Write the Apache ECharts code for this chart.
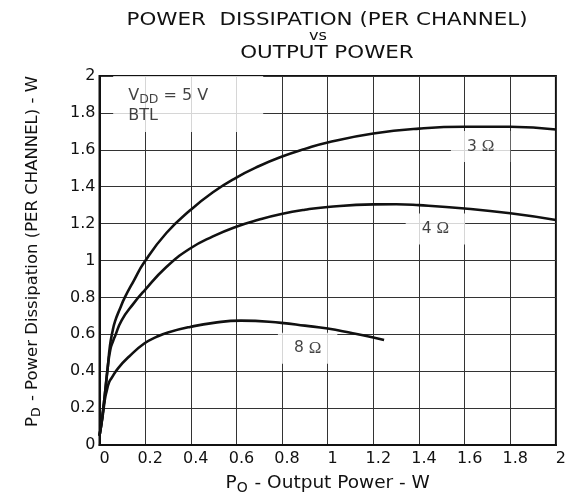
<!DOCTYPE html>
<html>
<head>
<meta charset="utf-8">
<script src="https://cdn.jsdelivr.net/npm/echarts@6/dist/echarts.min.js"></script>
<style>html,body{margin:0;padding:0;background:#fff;}#c{width:569px;height:500px;}</style>
</head>
<body>
<div id="c"></div>
<script>
// Data
const seriesNames = ['3 Ω', '4 Ω', '8 Ω'];
const r3 = [[0,0.05],[0.012,0.15],[0.024,0.28],[0.036,0.42],[0.046,0.54],[0.056,0.61],[0.068,0.67],[0.09,0.74],[0.111,0.80],[0.15,0.89],[0.196,0.99],[0.293,1.149],[0.397,1.272],[0.497,1.370],[0.596,1.447],[0.7,1.512],[0.797,1.562],[0.9,1.605],[1.0,1.64],[1.2,1.688],[1.4,1.715],[1.6,1.725],[1.8,1.725],[2.0,1.71]];
const r4 = [[0,0.05],[0.012,0.15],[0.024,0.28],[0.036,0.42],[0.048,0.52],[0.06,0.565],[0.068,0.59],[0.097,0.676],[0.148,0.765],[0.196,0.836],[0.293,0.965],[0.397,1.065],[0.497,1.131],[0.596,1.182],[0.7,1.222],[0.797,1.252],[0.9,1.275],[1.0,1.29],[1.2,1.304],[1.3,1.305],[1.4,1.30],[1.6,1.282],[1.8,1.256],[2.0,1.22]];
const r8 = [[0,0.05],[0.012,0.14],[0.024,0.25],[0.031,0.29],[0.042,0.34],[0.053,0.363],[0.082,0.417],[0.13,0.48],[0.196,0.55],[0.25,0.586],[0.3,0.61],[0.397,0.64],[0.5,0.662],[0.62,0.674],[0.797,0.662],[0.9,0.647],[1.0,0.631],[1.1,0.608],[1.2,0.583],[1.247,0.569]];
const xTickLabels = ['0','0.2','0.4','0.6','0.8','1','1.2','1.4','1.6','1.8','2'];
const yTickLabels = ['0','0.2','0.4','0.6','0.8','1','1.2','1.4','1.6','1.8','2'];
const curveLabels = [[1.67,1.618,'3'],[1.472,1.171,'4'],[0.912,0.524,'8']];
const noteAnchor = [0.06, 2.0];
const titleLines = ['POWER  DISSIPATION (PER CHANNEL)', 'vs', 'OUTPUT POWER'];

const FONT = 'DejaVu Sans';
const chart = echarts.init(document.getElementById('c'), null, {renderer:'canvas'});
const lineSeries = [r3, r4, r8].map((d, i) => ({
  name: seriesNames[i], type: 'line', data: d, smooth: 0.5, showSymbol: false,
  lineStyle: {color: '#111', width: 2.6}, z: 5, animation: false
}));
function titleText(txt, x, y, size, sx) {
  return {type: 'text', x: x, y: y, scaleX: sx, silent: true,
    style: {text: txt, fontFamily: FONT, fontSize: size, fill: '#111',
      textAlign: 'center', textVerticalAlign: 'middle', align: 'center', verticalAlign: 'middle'}};
}
chart.setOption({
  animation: false,
  backgroundColor: '#fff',
  graphic: [
    titleText(titleLines[0], 327, 20, 18, 1.19),
    titleText(titleLines[1], 318, 36, 14, 1.15),
    titleText(titleLines[2], 327, 53, 18, 1.19)
  ],
  grid: {left: 99.5, right: 11.5, top: 76, bottom: 50.5, show: true, borderColor: '#111', borderWidth: 2, containLabel: false},
  xAxis: {
    type: 'value', min: 0, max: 2, interval: 0.2,
    axisLine: {show: true, lineStyle: {color: '#111', width: 2}},
    axisTick: {show: false},
    splitLine: {show: true, lineStyle: {color: '#333', width: 1}},
    axisLabel: {fontFamily: FONT, fontSize: 16, color: '#111', margin: 6, padding: [0,0,0,10],
      formatter: v => xTickLabels[Math.round(v / 0.2)]},
    name: '{a|P}{s|O}{a| - Output Power - W}', nameLocation: 'middle', nameGap: 26,
    nameTextStyle: {rich: {
      a: {fontFamily: FONT, fontSize: 18.5, color: '#111', lineHeight: 22},
      s: {fontFamily: FONT, fontSize: 14, color: '#111', padding: [10,1,0,0]}
    }}
  },
  yAxis: {
    type: 'value', min: 0, max: 2, interval: 0.2,
    axisLine: {show: true, lineStyle: {color: '#111', width: 2}},
    axisTick: {show: false},
    splitLine: {show: true, lineStyle: {color: '#333', width: 1}},
    axisLabel: {fontFamily: FONT, fontSize: 16, color: '#111', margin: 4,
      formatter: v => yTickLabels[Math.round(v / 0.2)]},
    name: '{a|P}{s|D}{a| - Power Dissipation (PER CHANNEL) - W}', nameLocation: 'middle', nameGap: 56, nameRotate: 90,
    nameTextStyle: {padding: [0,0,0,18], rich: {
      a: {fontFamily: FONT, fontSize: 16.5, color: '#111', lineHeight: 20},
      s: {fontFamily: FONT, fontSize: 12.5, color: '#111', padding: [9,1,0,0]}
    }}
  },
  series: lineSeries.concat([
    {
      type: 'scatter', symbolSize: 0, z: 3, silent: true,
      data: curveLabels.map(c => ({value: [c[0], c[1]], name: c[2]})),
      label: {show: true, position: 'inside',
        formatter: p => '{n|' + p.name + ' }{o|Ω}',
        backgroundColor: '#fff', padding: [7, 16, 7, 16],
        rich: {
          n: {fontFamily: FONT, fontSize: 15.5, color: '#111'},
          o: {fontFamily: 'Liberation Serif', fontSize: 17, color: '#111'}
        }}
    },
    {
      type: 'scatter', symbolSize: 0, z: 3, silent: true,
      data: [{value: noteAnchor}],
      label: {show: true, position: [0, 0], align: 'left', verticalAlign: 'top',
        width: 135, backgroundColor: '#fff', padding: [10, 0, 6, 15],
        formatter: '{a|V}{s|DD}{a| = 5 V}\n{a|BTL}',
        rich: {
          a: {fontFamily: FONT, fontSize: 16, color: '#111', lineHeight: 20},
          s: {fontFamily: FONT, fontSize: 12.5, color: '#111', lineHeight: 20, padding: [8,0,0,0]}
        }}
    }
  ])
});
</script>
</body>
</html>
